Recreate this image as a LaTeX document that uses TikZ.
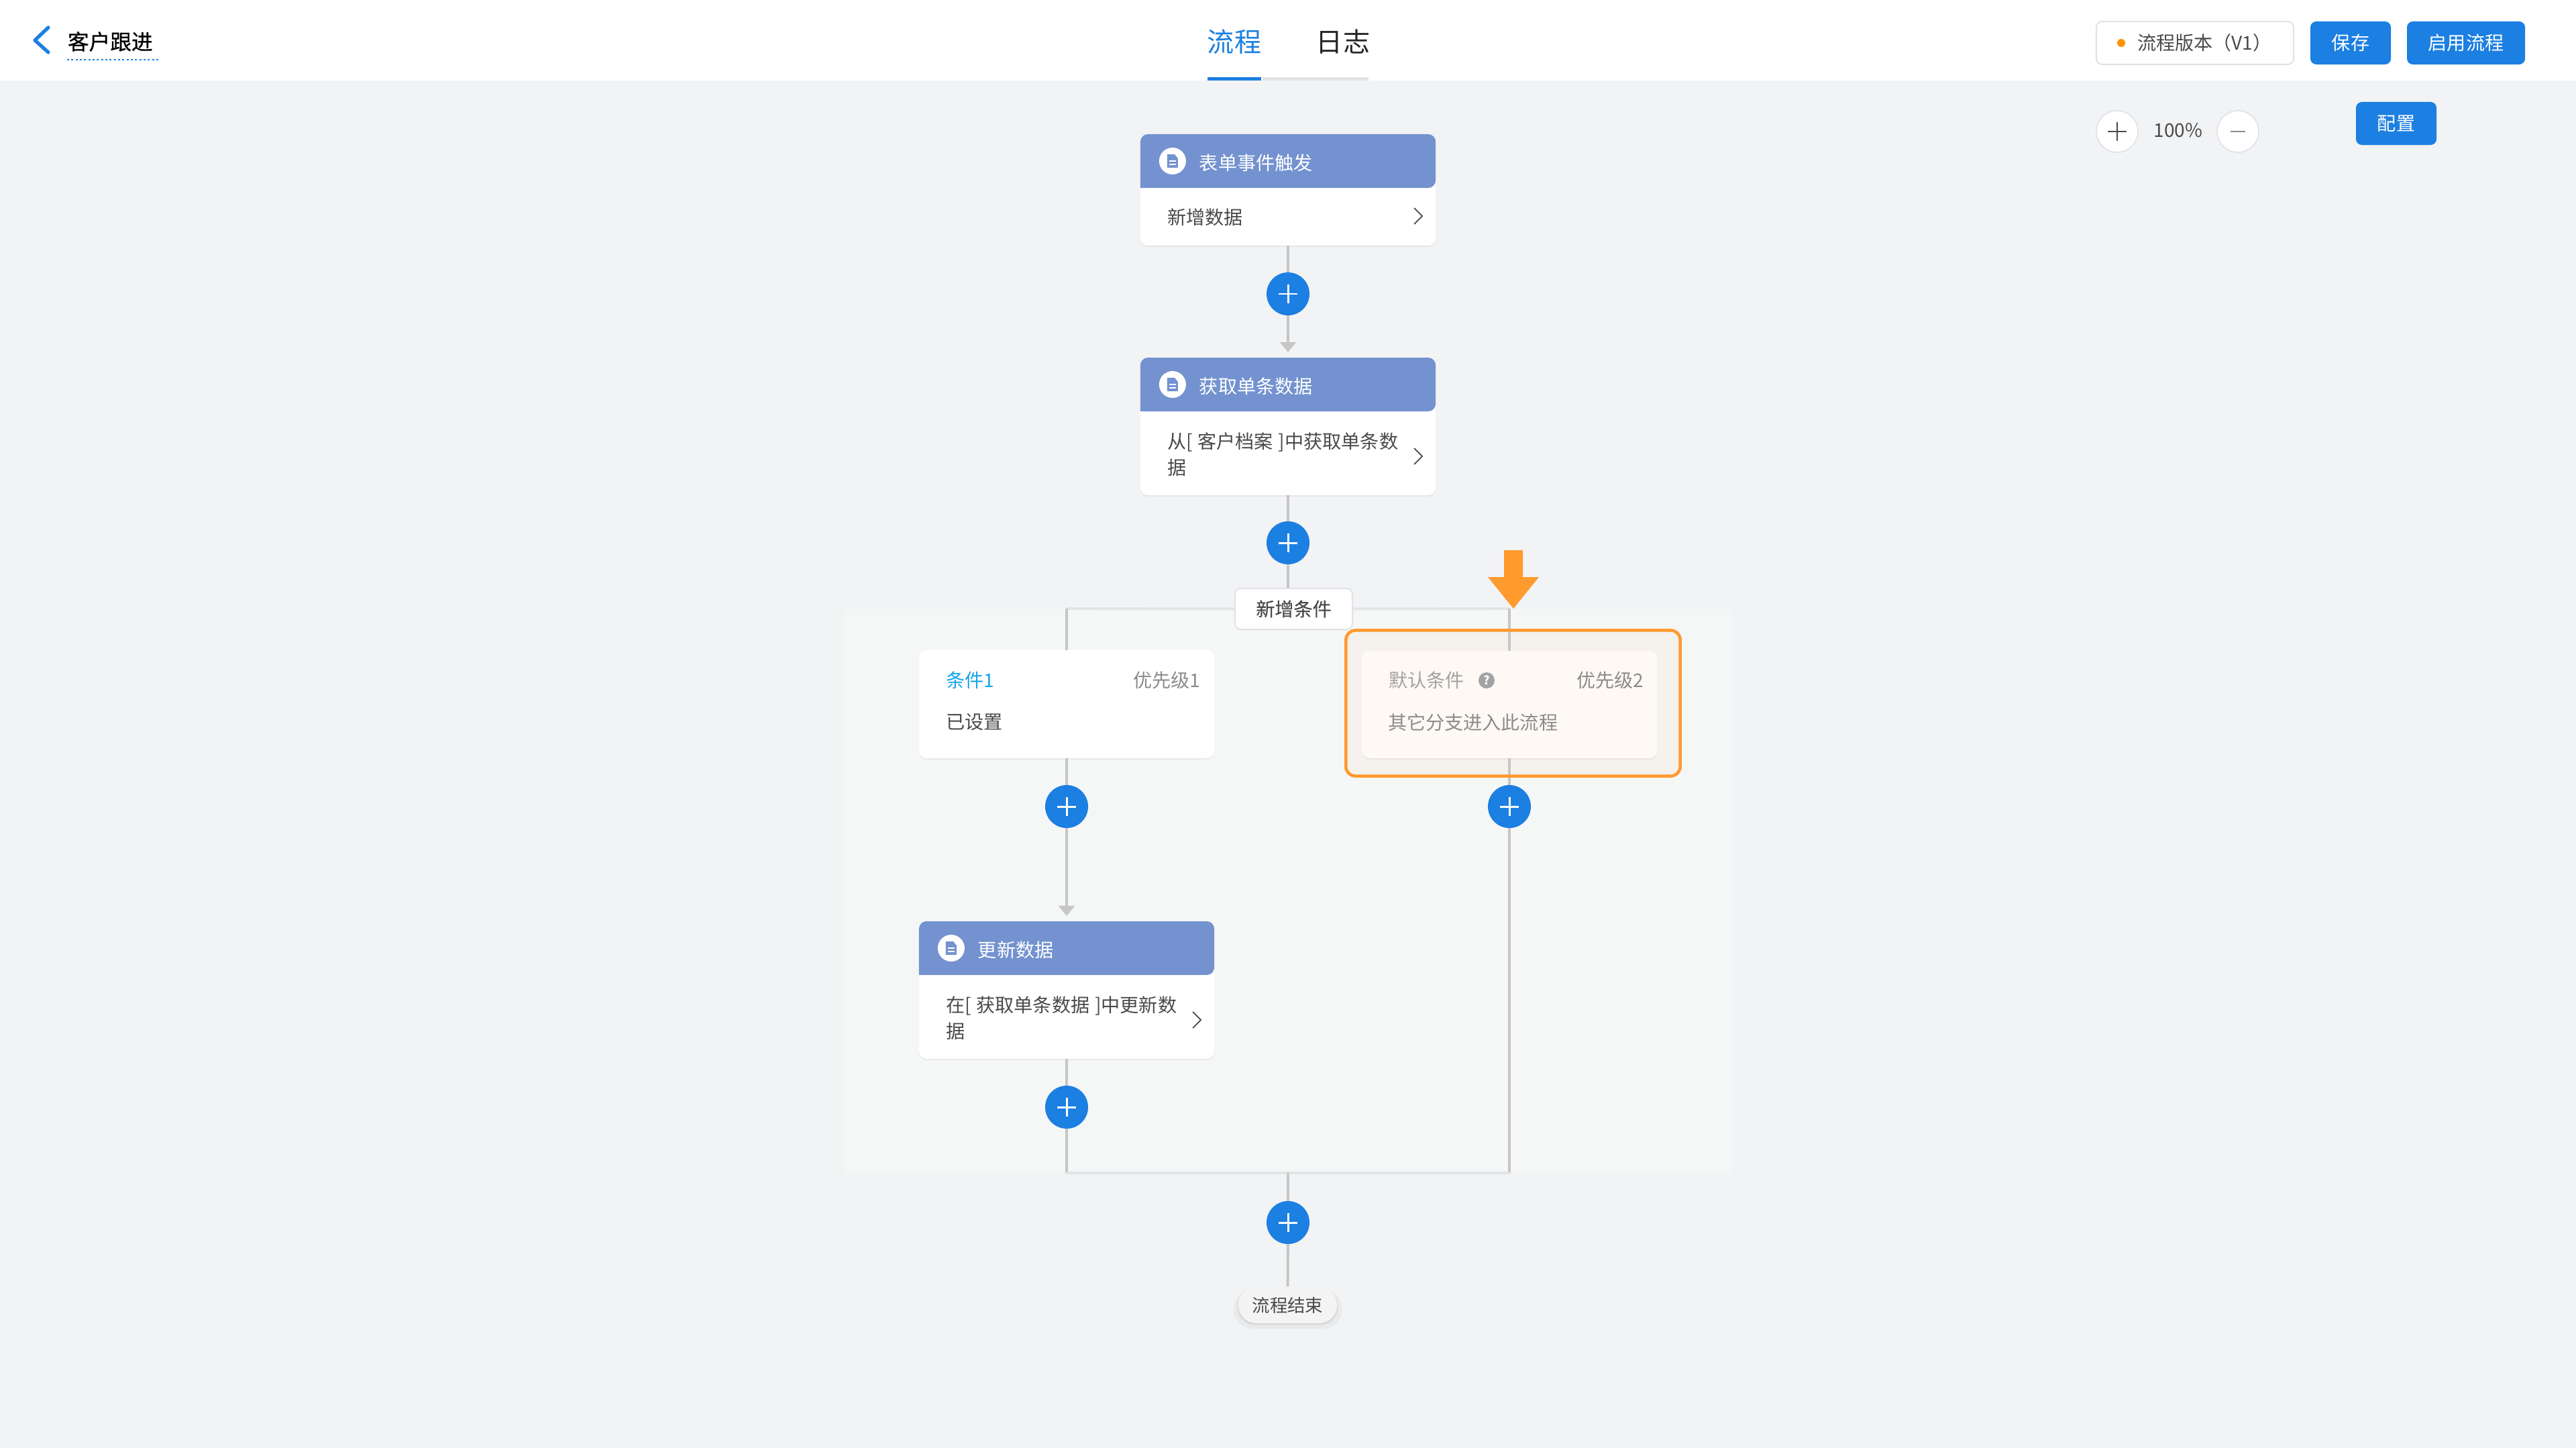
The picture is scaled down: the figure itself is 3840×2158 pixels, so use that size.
\documentclass[tikz,border=0pt]{standalone}
\usepackage{fontspec}
\setmainfont{Noto Sans CJK SC}[WordSpace=1.25]
\newfontfamily\mediumfont{Noto Sans CJK SC}[FakeBold=0.25]
\newfontfamily\headfont{Noto Sans CJK SC}[FakeBold=0.7]
\usetikzlibrary{arrows.meta,shadows}

\definecolor{canvasbg}{HTML}{F2F3F5}
\definecolor{branchbg}{HTML}{F5F6F6}
\definecolor{btnblue}{HTML}{1C7FE2}
\definecolor{cardblue}{HTML}{7392CF}
\definecolor{linegray}{HTML}{C6C6C6}
\definecolor{paleline}{HTML}{E3E4E7}
\definecolor{edgegray}{HTML}{E1E3EA}
\definecolor{bodytext}{HTML}{4A4A4A}
\definecolor{softtext}{HTML}{8C8C8C}
\definecolor{markorange}{HTML}{FF9A2E}
\definecolor{selfill}{HTML}{F5F1EC}
\definecolor{defcardfill}{HTML}{FEF9F4}
\definecolor{pillfill}{HTML}{F4F4F4}

\tikzset{
    txt/.style={inner sep=0pt, outer sep=0pt, text=bodytext, font=\fontsize{8pt}{11pt}\selectfont, align=left},
    flowcard/.style={rectangle, rounded corners=3.2pt, fill=white, inner sep=0pt, outer sep=0pt, minimum width=4.4cm,
        drop shadow={opacity=.12, shadow xshift=0pt, shadow yshift=-.5pt}},
    iconbadge/.style={circle, fill=white, inner sep=0pt, minimum size=.4cm},
    addbtn/.style={circle, fill=btnblue, inner sep=0pt, outer sep=0pt, minimum size=.64cm,
        path picture={\draw[white, line width=.85pt] (path picture bounding box.center) ++(-14,0) -- ++(28,0)
            (path picture bounding box.center) ++(0,-14) -- ++(0,28);}},
    zoombtn/.style={circle, draw=edgegray, line width=.5pt, fill=white, inner sep=0pt, minimum size=.62cm},
    topbtn/.style={rectangle, rounded corners=2.5pt, fill=btnblue, text=white, inner sep=0pt, minimum height=.64cm,
        font=\fontsize{8pt}{10pt}\selectfont},
    link/.style={draw=linegray, line width=1.1pt},
    linkarrow/.style={link, -{Triangle[length=4.3pt,width=6.8pt]}, shorten >=2.3pt},
    palelink/.style={draw=paleline, line width=1.1pt},
    chev/.style={draw=bodytext, line width=.5pt}
}

\begin{document}
\begin{tikzpicture}[x=.01cm, y=-.01cm]
        % Canvas and top bar
        \fill[canvasbg] (0,0) rectangle (3840,2158);
        \useasboundingbox (0,0) rectangle (3840,2158);
        \fill[white] (0,0) rectangle (3840,120);
        \fill[branchbg] (1259,907) rectangle (2581,1748);

        % Title and tabs
        \draw[btnblue, line width=1.5pt, line cap=round, line join=round] (72,41) -- (52,60) -- (72,78);
        \node[txt, anchor=west, text=black, font=\fontsize{9pt}{11pt}\headfont] (title) at (101,62) {客户跟进};
        \draw[btnblue, line width=.8pt, dash pattern=on .9pt off .9pt] (100,89) -- (237,89);
        \node[txt, text=btnblue, font=\fontsize{11.4pt}{13pt}\selectfont] (tabflow) at (1840,62) {流程};
        \node[txt, text=black!85, font=\fontsize{11.4pt}{13pt}\selectfont] (tablog) at (2002,62) {日志};
        \fill[paleline] (1882,115) rectangle (2040,120);
        \fill[btnblue] (1800,115) rectangle (1880,120);

        % Top right controls
        \node[rectangle, rounded corners=2.5pt, draw=edgegray, line width=.6pt, fill=white, minimum width=2.94cm, minimum height=.64cm, inner sep=0pt] (version) at (3272,64) {};
        \node[circle, fill=orange!85!yellow, inner sep=0pt, minimum size=.12cm] (versiondot) at (3162,64) {};
        \node[txt, anchor=west] (versiontxt) at (3186,64) {流程版本（V1）};
        \node[topbtn, minimum width=1.2cm] (save) at (3504,64) {保存};
        \node[topbtn, minimum width=1.76cm] (enable) at (3676,64) {启用流程};
        \node[topbtn, minimum width=1.2cm] (config) at (3572,184) {配置};

        % Zoom buttons
        \node[zoombtn] (zoomin) at (3156,196) {};
        \node[zoombtn] (zoomout) at (3336,196) {};
        \draw[bodytext, line width=.7pt] (3142,196) -- (3170,196) (3156,182) -- (3156,210);
        \draw[softtext, line width=.7pt] (3325,196) -- (3347,196);
        \node[txt] (zoomval) at (3247,194) {100\%};

        % Selected default branch behind the connectors
        \node[rectangle, rounded corners=4pt, fill=selfill, minimum width=4.98cm, minimum height=2.17cm, inner sep=0pt] (selbox) at (2255.5,1048) {};

        % Action cards
        \foreach \nm/\cx/\cy/\ch/\ttl in {trigger/1920/283/166/表单事件触发, getdata/1920/635.5/205/获取单条数据, update/1590/1475.5/205/更新数据} {
            \node[flowcard, minimum height=\ch*.01cm] (\nm) at (\cx,\cy) {};
            \fill[cardblue, rounded corners=3.2pt] ([yshift=-.8cm]\nm.north west) |- (\nm.north) -| ([yshift=-.8cm]\nm.north east) [sharp corners] -- cycle;
            \node[iconbadge] (\nm icon) at ([shift={(48,40)}]\nm.north west) {};
            \fill[cardblue] ([shift={(-8,-10)}]\nm icon.center) -- ([shift={(3,-10)}]\nm icon.center) -- ([shift={(8,-4)}]\nm icon.center)
                -- ([shift={(8,10)}]\nm icon.center) -- ([shift={(-8,10)}]\nm icon.center) -- cycle;
            \draw[white, line width=.3pt] ([shift={(-5,0)}]\nm icon.center) -- ([shift={(5,0)}]\nm icon.center)
                ([shift={(-5,5)}]\nm icon.center) -- ([shift={(5,5)}]\nm icon.center);
            \node[txt, anchor=west, text=white] (\nm title) at ([shift={(88,43)}]\nm.north west) {\ttl};
        };

        % Card texts
        \node[txt, anchor=west] (triggertxt) at (1740,324) {新增数据};
        \node[txt, anchor=west] (getdatatxt) at (1740,677) {从[ 客户档案 ]中获取单条数\\据};
        \node[txt, anchor=west] (updatetxt) at (1410,1517) {在[ 获取单条数据 ]中更新数\\据};
        \foreach \x/\y in {2120/322, 2120/680, 1790/1520} {
            \draw[chev] (\x-12,\y-12) -- (\x,\y) -- (\x-12,\y+12);
        };

        % Condition cards
        \node[flowcard, minimum height=1.61cm] (cond) at (1590,1049.5) {};
        \node[txt, anchor=west, text=btnblue!70!cyan] (condname) at (1410,1014) {条件1};
        \node[txt, anchor=east, text=softtext] (condprio) at (1789,1014) {优先级1};
        \node[txt, anchor=west] (condtxt) at (1410,1076) {已设置};
        \node[flowcard, fill=defcardfill, minimum height=1.6cm] (defcond) at (2250,1050) {};
        \node[txt, anchor=west, text=softtext!80] (defname) at (2070,1014) {默认条件};
        \node[circle, fill=softtext!80, inner sep=0pt, minimum size=.24cm, text=white, font=\fontsize{5pt}{5pt}\selectfont\bfseries] (defhelp) at (2216,1014) {?};
        \node[txt, anchor=east, text=softtext] (defprio) at (2450,1014) {优先级2};
        \node[txt, anchor=west, text=softtext] (deftxt) at (2069,1077) {其它分支进入此流程};

        % Add condition and end
        \node[rectangle, rounded corners=2.5pt, draw=edgegray, line width=.6pt, fill=white, inner sep=0pt, minimum width=1.75cm, minimum height=.61cm,
            font=\fontsize{8pt}{10pt}\mediumfont, text=bodytext] (addcond) at (1928.5,907.5) {新增条件};
        \node[rectangle, rounded corners=7.6pt, fill=pillfill, minimum width=1.47cm, minimum height=.54cm, inner sep=0pt, text=bodytext,
            font=\fontsize{7.5pt}{10pt}\selectfont, drop shadow={opacity=.07, shadow xshift=0pt, shadow yshift=-1.5pt, shadow scale=1.1},
            drop shadow={opacity=.16, shadow xshift=0pt, shadow yshift=-.6pt, shadow scale=1.02}] (finish) at (1919.5,1945) {流程结束};

        % Plus buttons
        \foreach \nm/\cx/\cy in {add1/1920/438, add2/1920/809, add3/1590/1202, add4/1590/1650, add5/2250/1202, add6/1920/1822} {
            \node[addbtn] (\nm) at (\cx,\cy) {};
        };

        % Branch corners
        \coordinate (topl) at (1590,907);
        \coordinate (topr) at (2250,907);
        \coordinate (botl) at (1590,1748);
        \coordinate (botr) at (2250,1748);
        \coordinate (botm) at (1920,1748);

        % Connectors
        \draw[link] (trigger) -- (add1);
        \draw[linkarrow] (add1) -- (getdata);
        \draw[link] (getdata) -- (add2);
        \draw[link] (add2.south) -- (add2.south |- addcond.north);
        \draw[palelink] (topl) -- (addcond) -- (topr);
        \draw[link] (topl) -- (cond);
        \draw[link] (topr) -- (defcond);
        \draw[link] (cond) -- (add3);
        \draw[linkarrow] (add3) -- (update);
        \draw[link] (update) -- (add4);
        \draw[link] (add4) -- (botl);
        \draw[link] (defcond) -- (add5);
        \draw[link] (add5) -- (botr);
        \draw[palelink] (botl) -- (botr);
        \draw[link] (botm) -- (add6);
        \draw[link] (add6) -- (finish);

        % Orange frame and pointer
        \node[rectangle, rounded corners=4pt, draw=markorange, line width=1.3pt, minimum width=4.98cm, minimum height=2.17cm, inner sep=0pt, outer sep=0pt] (selframe) at (selbox) {};
        \fill[markorange] (2242,820) -- (2270,820) -- (2270,860) -- (2294,860) -- (2256,907) -- (2218,860) -- (2242,860) -- cycle;
    \end{tikzpicture}
\end{document}
